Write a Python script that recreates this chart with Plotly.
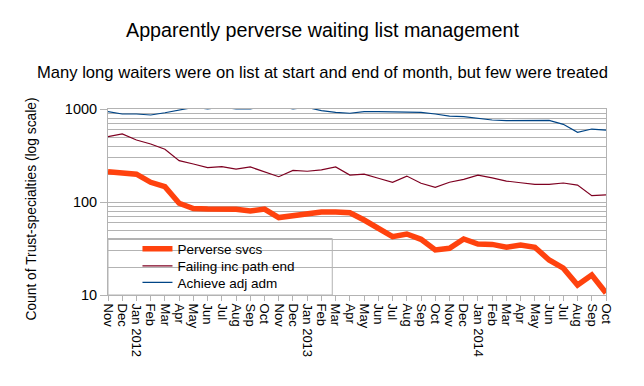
import plotly.graph_objects as go

months = ["Nov", "Dec", "Jan 2012", "Feb", "Mar", "Apr", "May", "Jun", "Jul", "Aug", "Sep", "Oct",
          "Nov", "Dec", "Jan 2013", "Feb", "Mar", "Apr", "May", "Jun", "Jul", "Aug", "Sep", "Oct",
          "Nov", "Dec", "Jan 2014", "Feb", "Mar", "Apr", "May", "Jun", "Jul", "Aug", "Sep", "Oct"]

perverse_svcs = [212, 206, 199, 163, 146, 97, 85, 84, 84, 83.5, 80, 84,
                 68, 72, 75.5, 78, 78, 76.5, 64, 52, 42.4, 45.3, 39.7, 30.5,
                 31.8, 40, 35.3, 35, 32.6, 34.5, 32.6, 23.8, 19.4, 12.8, 16.4, 10.5]

failing_inc_path_end = [504, 539, 464, 420, 369, 278, 256, 234, 240, 226, 238, 209,
                        187, 219, 214, 222, 238, 195, 199, 180, 163, 190, 159, 144,
                        163, 175, 194, 182, 168, 161, 155, 155, 160, 152, 117, 119]

achieve_adj_adm = [935, 884, 884, 862, 912, 968, 1040, 1005, 1040, 1005, 1005, 1060,
                   1060, 1005, 1040, 960, 920, 900, 935, 935, 935, 935, 920, 884,
                   840, 826, 794, 762, 750, 750, 753, 753, 684, 561, 609, 594]

y_major = [10, 100, 1000]
y_minor = [v * m for v in (10, 100) for m in range(2, 10)]

x = list(range(len(months)))
FONT = "Liberation Sans, Arial, sans-serif"
GRID = "#b3b3b3"

W, H = 644, 386
L, R, T, B = 107.5, 38, 109, 91
pw, ph = W - L - R, H - T - B

def px_x(p):
    return (p - L) / pw

def px_y(p):
    return (H - B - p) / ph

fig = go.Figure()
fig.add_trace(go.Scatter(x=x, y=achieve_adj_adm, mode="lines", name="Achieve adj adm",
                         line=dict(color="#004586", width=1.2), legend="legend3"))
fig.add_trace(go.Scatter(x=x, y=failing_inc_path_end, mode="lines", name="Failing inc path end",
                         line=dict(color="#7e0021", width=1.2), legend="legend2"))
fig.add_trace(go.Scatter(x=x, y=perverse_svcs, mode="lines", name="Perverse svcs",
                         line=dict(color="#ff420e", width=5.5), legend="legend"))

def leg(center_px):
    return dict(x=px_x(137), y=px_y(center_px - 17.5), xanchor="left", yanchor="top",
                bgcolor="rgba(0,0,0,0)", borderwidth=0,
                font=dict(size=13.5, family=FONT, color="black"), itemwidth=30)

fig.update_layout(
    width=W, height=H,
    margin=dict(l=L, r=R, t=T, b=B, pad=0),
    paper_bgcolor="white", plot_bgcolor="white",
    font=dict(family=FONT, color="black"),
    showlegend=True,
    legend=leg(251),
    legend2=leg(268),
    legend3=leg(284.5),
    xaxis=dict(range=[0, len(months) - 1], tickvals=x, ticktext=months, tickangle=90,
               showgrid=False, zeroline=False, showline=True, linecolor=GRID, mirror=True,
               ticks="outside", ticklen=5, tickcolor=GRID, tickfont=dict(size=13, family=FONT)),
    yaxis=dict(type="log", range=[1, 3], tickvals=y_major, ticktext=[str(v) for v in y_major],
               showgrid=True, gridcolor=GRID, gridwidth=1, zeroline=False,
               showline=True, linecolor=GRID, mirror=True,
               ticks="outside", ticklen=7, tickcolor=GRID, tickfont=dict(size=14.5, family=FONT),
               minor=dict(tickvals=y_minor, showgrid=True, gridcolor=GRID, gridwidth=1, ticks="")),
    shapes=[dict(type="rect", xref="paper", yref="paper", x0=0, x1=px_x(332), y0=0, y1=px_y(238.5),
                 fillcolor="white", line=dict(color=GRID, width=1), layer="between")],
    annotations=[
        dict(text="Apparently perverse waiting list management", xref="paper", yref="paper",
             x=px_x(322), y=px_y(30), xanchor="center", yanchor="middle", showarrow=False,
             font=dict(size=19.7, family=FONT)),
        dict(text="Many long waiters were on list at start and end of month, but few were treated",
             xref="paper", yref="paper", x=px_x(322), y=px_y(72), xanchor="center", yanchor="middle",
             showarrow=False, font=dict(size=16.6, family=FONT)),
        dict(text="Count of Trust-specialties (log scale)", xref="paper", yref="paper",
             x=px_x(30), y=px_y(209), xanchor="center", yanchor="middle", textangle=-90,
             showarrow=False, font=dict(size=13.8, family=FONT)),
    ],
)

fig.write_html("out.html", config={"displayModeBar": False},
               post_script="document.body.style.margin='0';")
